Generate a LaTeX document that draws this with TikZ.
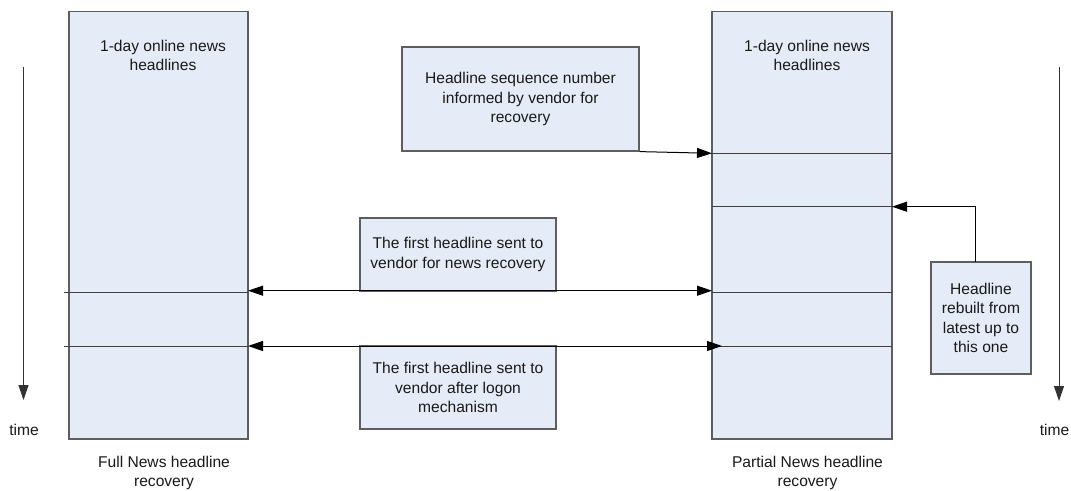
\documentclass[tikz,border=0pt]{standalone}
\usepackage{fontspec}
\setmainfont{Liberation Sans}
\usetikzlibrary{arrows.meta}
\definecolor{boxfill}{HTML}{E6ECF7}
\definecolor{boxline}{HTML}{5E5E5E}
\begin{document}
\begin{tikzpicture}[x=1pt,y=-1pt,
  every node/.style={font=\fontsize{15.6}{19.2}\selectfont, text=black!90},
  bigbox/.style={draw=boxline, fill=boxfill, line width=1.2pt, minimum width=#1, minimum height=427.5pt, inner sep=0pt},
  notebox/.style={draw=boxline, fill=boxfill, line width=1.2pt, inner sep=0pt, align=center},
  lbl/.style={align=center, inner sep=0pt},
  sep/.style={draw=black!75, line width=1pt},
  conn/.style={draw=black, line width=1pt, -{Triangle[length=15pt,width=10pt]}},
  dconn/.style={draw=black, line width=1pt, {Triangle[length=15pt,width=10pt]}-{Triangle[length=15pt,width=10pt]}},
  timearrow/.style={draw=black!80, line width=1pt, -{Triangle[length=15pt,width=10pt]}}]
\useasboundingbox (0,0) rectangle (1071,490);
\fill[white] (0,0) rectangle (1071,490);

% big columns
\node[bigbox=179pt] (L) at (158.5,225.25) {};
\node[bigbox=180pt] (R) at (802,225.25) {};
\node[lbl] (Lt) at (163,55.5) {1-day online news\\headlines};
\node[lbl] (Rt) at (807,55.5) {1-day online news\\headlines};

% separators
\coordinate (r1) at (712,153.3);
\coordinate (r2) at (712,206.7);
\coordinate (r3) at (712,292.5);
\coordinate (r4) at (712,346);
\coordinate (r1e) at (892,153.3);
\coordinate (r2e) at (892,206.7);
\coordinate (r3e) at (892,292.5);
\coordinate (r4e) at (892,346);
\path[sep] (r1) -- (r1e) (r2) -- (r2e) (r3) -- (r3e) (r4) -- (r4e);
\coordinate (l3s) at (64,292.3);
\coordinate (l4s) at (64,346);
\coordinate (l3) at (248,292.3);
\coordinate (l4) at (248,346);
\path[sep] (l3s) -- (l3) (l4s) -- (l4);

% note boxes
\node[notebox, minimum width=237pt, minimum height=104pt] (S) at (520.5,99) {Headline sequence number\\informed by vendor for\\recovery};
\node[notebox, minimum width=196pt, minimum height=73pt] (F1) at (458,254.5) {The first headline sent to\\vendor for news recovery};
\node[notebox, minimum width=196pt, minimum height=83pt] (F2) at (458,387.5) {The first headline sent to\\vendor after logon\\mechanism};
\node[notebox, minimum width=100pt, minimum height=112pt] (H) at (981,318) {Headline\\rebuilt from\\latest up to\\this one};

% connectors
\path[conn] (S.south east) -- (r1);
\coordinate (hs) at (975,262);
\path[conn] (hs) |- (r2e);
\coordinate (a1l) at (248,290.7);
\coordinate (a1r) at (712,290.7);
\path[dconn] (a1l) -- (a1r);
\coordinate (a2r) at (722,346);
\path[dconn] (l4) -- (a2r);

% time arrows
\coordinate (t1s) at (23.5,67);
\coordinate (t1e) at (23.5,400);
\coordinate (t2s) at (1059,67);
\coordinate (t2e) at (1059,401);
\path[timearrow] (t1s) -- (t1e);
\path[timearrow] (t2s) -- (t2e);
\node[lbl] (T1) at (24,430) {time};
\node[lbl] (T2) at (1054.5,430) {time};

% bottom captions
\node[lbl] (Lc) at (164,473) {Full News headline\\recovery};
\node[lbl] (Rc) at (807.5,473) {Partial News headline\\recovery};
\end{tikzpicture}
\end{document}
